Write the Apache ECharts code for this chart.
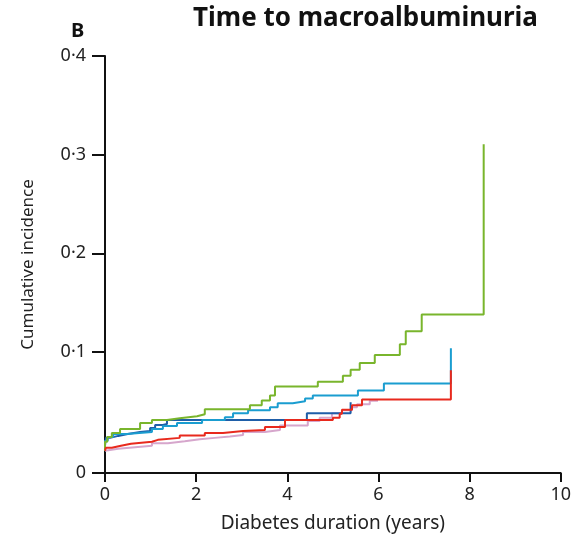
<!DOCTYPE html>
<html>
<head>
<meta charset="utf-8">
<script src="https://cdn.jsdelivr.net/npm/echarts@6/dist/echarts.min.js"></script>
<style>
    body { margin: 0; background: #fff; }
    #chart { width: 574px; height: 542px; }
</style>
</head>
<body>
<div id="chart"></div>
<script>
    // step points: [diabetes duration (years), cumulative incidence]
    var greenData = [[0, 0], [0, 0.009], [0.05, 0.014], [0.15, 0.018], [0.33, 0.022], [0.77, 0.028], [1.03, 0.031],
        [1.36, 0.033], [1.64, 0.035], [2.02, 0.037], [2.19, 0.042], [3.18, 0.046], [3.44, 0.051], [3.62, 0.056],
        [3.73, 0.065], [4.67, 0.070], [5.22, 0.076], [5.39, 0.082], [5.59, 0.089], [5.92, 0.097], [6.47, 0.108],
        [6.60, 0.121], [6.95, 0.138], [8.31, 0.3105]];
    var cyanData = [[0, 0], [0, 0.010], [0.06, 0.014], [0.18, 0.017], [0.48, 0.019], [1.03, 0.022], [1.27, 0.025],
        [1.58, 0.028], [2.13, 0.031], [2.63, 0.034], [2.81, 0.038], [3.14, 0.041], [3.62, 0.044], [3.79, 0.048],
        [4.12, 0.050], [4.39, 0.053], [4.56, 0.056], [5.55, 0.061], [6.12, 0.068], [7.59, 0.1038]];
    var navyData = [[0, 0], [0, 0.005], [0.02, 0.013], [0.11, 0.015], [0.29, 0.017], [0.5, 0.019], [0.77, 0.020],
        [0.99, 0.023], [1.1, 0.026], [1.27, 0.027], [1.36, 0.031], [4.43, 0.038], [5.39, 0.049]];
    var redData = [[0, 0], [0.02, 0.003], [0.15, 0.005], [0.35, 0.007], [0.57, 0.009], [1.03, 0.011], [1.16, 0.013],
        [1.64, 0.0155], [2.19, 0.018], [2.59, 0.020], [3.03, 0.021], [3.51, 0.024], [3.95, 0.031], [5.0, 0.0335],
        [5.15, 0.0375], [5.2, 0.0415], [5.42, 0.046], [5.64, 0.052], [7.59, 0.0815]];
    var pinkData = [[0, 0], [0.02, 0.002], [0.29, 0.0035], [0.66, 0.005], [1.03, 0.0075], [1.38, 0.0095], [1.75, 0.0115],
        [2.08, 0.013], [2.41, 0.0145], [2.74, 0.016], [3.03, 0.019], [3.51, 0.021], [3.84, 0.0255], [4.45, 0.030],
        [4.71, 0.0335], [4.98, 0.038], [5.2, 0.041], [5.42, 0.044], [5.53, 0.047], [5.81, 0.0505], [5.99, 0.0505]];

    var xTicks = [0, 2, 4, 6, 8, 10];
    // x axis sits a little below zero, but is labelled 0
    var yMin = -0.0226;
    var yTicks = [yMin, 0.1, 0.2, 0.3, 0.4];

    var myFont = '"Noto Sans", "Open Sans", sans-serif';

    function stepSeries(name, data, color) {
        return {
            name: name,
            type: 'line',
            step: 'end',
            data: data,
            showSymbol: false,
            lineStyle: { color: color, width: 2 },
            itemStyle: { color: color },
            animation: false
        };
    }

    var chart = echarts.init(document.getElementById('chart'));
    chart.setOption({
        backgroundColor: '#fff',
        title: [
            { text: 'B', left: 66, top: 16, textStyle: { fontFamily: myFont, fontSize: 20, fontWeight: 'bold', color: '#111' } },
            { text: 'Time to macroalbuminuria', left: 188, top: 1, textStyle: { fontFamily: myFont, fontSize: 26, fontWeight: 'bold', color: '#111' } }
        ],
        grid: { left: 105, right: 13, top: 56, bottom: 69 },
        xAxis: {
            type: 'value',
            min: xTicks[0],
            max: xTicks[xTicks.length - 1],
            interval: 2,
            name: 'Diabetes duration (years)',
            nameLocation: 'middle',
            nameGap: 41,
            nameTextStyle: { fontFamily: myFont, fontSize: 19, color: '#222' },
            axisLine: { onZero: false, lineStyle: { color: '#111', width: 2 } },
            axisTick: { inside: false, length: 9, lineStyle: { color: '#111', width: 2 } },
            axisLabel: { fontFamily: myFont, fontSize: 18, color: '#222', margin: 13 },
            splitLine: { show: false }
        },
        yAxis: {
            type: 'value',
            min: yMin,
            max: 0.4,
            name: 'Cumulative incidence',
            nameLocation: 'middle',
            nameRotate: 90,
            nameGap: 68,
            nameTextStyle: { fontFamily: myFont, fontSize: 17, color: '#222' },
            axisLine: { show: true, onZero: false, lineStyle: { color: '#111', width: 2 } },
            axisTick: { show: true, length: 13, customValues: yTicks, lineStyle: { color: '#111', width: 2 } },
            axisLabel: {
                fontFamily: myFont, fontSize: 18, color: '#222', margin: 19,
                customValues: yTicks,
                formatter: function (v) {
                    if (v <= 0) return '0';
                    return v.toFixed(1).replace('.', '\u00B7');
                }
            },
            splitLine: { show: false }
        },
        series: [
            stepSeries('pink', pinkData, '#d6a6cc'),
            stepSeries('navy', navyData, '#1f5ea8'),
            stepSeries('cyan', cyanData, '#1a9dd0'),
            stepSeries('green', greenData, '#79b52c'),
            stepSeries('red', redData, '#e8291d')
        ]
    });
</script>
</body>
</html>
